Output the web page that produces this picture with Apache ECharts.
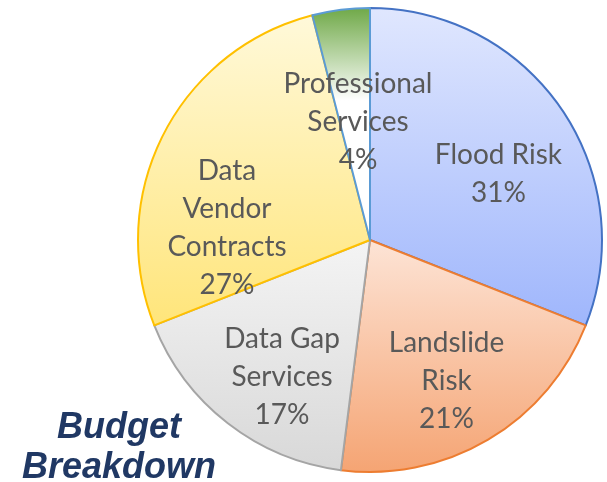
<!DOCTYPE html>
<html>
<head>
<meta charset="utf-8">
<script src="https://cdn.jsdelivr.net/npm/echarts@6/dist/echarts.min.js"></script>
<style>
  html, body { margin: 0; padding: 0; background: #fff; }
  #chart { width: 607px; height: 482px; }
</style>
</head>
<body>
<div id="chart"></div>
<script>
// budget shares, clockwise from 12 o'clock
const categories = ['Flood Risk', 'Landslide\nRisk', 'Data Gap\nServices', 'Data\nVendor\nContracts', 'Professional\nServices']
const shares = [31, 21, 17, 27, 4]

// gradient fill (top -> bottom) and border per slice
const sliceStyles = [
  { from: '#e0e7fe', to: '#9fb6fc', border: '#4472c4' },
  { from: '#fde4d6', to: '#f5a473', border: '#ed7d31' },
  { from: '#f4f4f4', to: '#d8d8d8', border: '#a5a5a5' },
  { from: '#fff9da', to: '#ffe57a', border: '#ffc000' },
  { from: '#6ea846', to: '#ffffff', border: '#5b9bd5', stop: 0.4 }
]
// label nudges from the default inside spot (null = drawn separately, the slice is too thin for echarts)
const labelOffsets = [[30, 1], [16, 39], [-15, 43], [-37, 42], null]

const labelFont = { color: '#595959', fontFamily: 'Lato', fontSize: 28, lineHeight: 38 }

const chart = echarts.init(document.getElementById('chart'))

const total = shares.reduce((a, b) => a + b, 0)
const thinIdx = labelOffsets.indexOf(null)

const seriesData = categories.map((name, i) => {
  const s = sliceStyles[i]
  return {
    name,
    value: shares[i],
    itemStyle: {
      color: new echarts.graphic.LinearGradient(0, 0, 0, 1, [
        { offset: 0, color: s.from },
        { offset: s.stop || 1, color: s.to },
        { offset: 1, color: s.to }
      ]),
      borderColor: s.border,
      borderWidth: 2
    },
    label: labelOffsets[i] ? { offset: labelOffsets[i] } : { show: false }
  }
})

chart.setOption({
  animation: false,
  backgroundColor: '#fff',
  graphic: [
    {
      type: 'text',
      left: 22,
      top: 408,
      style: {
        text: 'Budget\nBreakdown',
        fill: '#203864',
        font: 'italic bold 36px "Liberation Sans", Arial, sans-serif',
        textAlign: 'center',
        lineHeight: 40
      }
    },
    {
      // label of the thin Professional Services slice
      type: 'text',
      x: 358,
      y: 122,
      z: 10,
      style: {
        text: categories[thinIdx] + '\n' + Math.round(shares[thinIdx] / total * 100) + '%',
        fill: labelFont.color,
        font: labelFont.fontSize + 'px ' + labelFont.fontFamily,
        lineHeight: labelFont.lineHeight,
        textAlign: 'center',
        textVerticalAlign: 'middle'
      }
    }
  ],
  series: [
    {
      type: 'pie',
      center: [370, 240],
      radius: 232,
      startAngle: 90,
      clockwise: true,
      avoidLabelOverlap: false,
      data: seriesData,
      label: Object.assign({
        show: true,
        position: 'inside',
        formatter: '{b}\n{d}%'
      }, labelFont),
      labelLine: { show: false },
      emphasis: { disabled: true }
    }
  ]
})
</script>
</body>
</html>
